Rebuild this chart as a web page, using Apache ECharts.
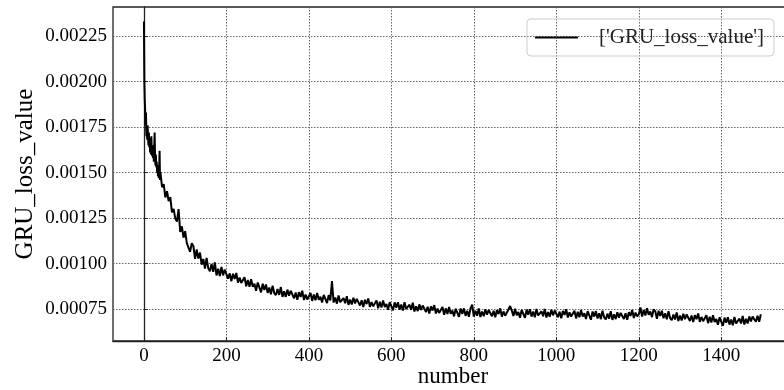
<!DOCTYPE html>
<html>
<head>
<meta charset="utf-8">
<script src="https://cdn.jsdelivr.net/npm/echarts@6/dist/echarts.min.js"></script>
<style>
  html, body { margin: 0; padding: 0; background: #fff; }
  #myChart { width: 784px; height: 390px; }
</style>
</head>
<body>
<div id="myChart"></div>
<script>
// loss for number 0..39 (one per step)
var earlyLoss = [
  0.002330, 0.002010, 0.001900, 0.001840, 0.001760, 0.001830, 0.001700, 0.001740, 0.001680, 0.001760,
  0.001690, 0.001650, 0.001720, 0.001640, 0.001690, 0.001610, 0.001660, 0.001600, 0.001700, 0.001620,
  0.001590, 0.001650, 0.001580, 0.001620, 0.001560, 0.001640, 0.001720, 0.001580, 0.001540, 0.001600,
  0.001530, 0.001560, 0.001500, 0.001540, 0.001480, 0.001520, 0.001470, 0.001530, 0.001620, 0.001460
];
// loss for number 40..1496, read every 4 steps
var laterStep = 4;
var laterLoss = [
  0.001501, 0.001420, 0.001437, 0.001364, 0.001398, 0.001344, 0.001365, 0.001282, 0.001301, 0.001249,
  0.001231, 0.001300, 0.001174, 0.001205, 0.001143, 0.001179, 0.001113, 0.001123, 0.001065, 0.001113,
  0.001096, 0.001027, 0.001078, 0.001029, 0.001061, 0.000995, 0.001026, 0.000974, 0.001032, 0.000975,
  0.000959, 0.000999, 0.000956, 0.001007, 0.000936, 0.000973, 0.000933, 0.000982, 0.000936, 0.000968,
  0.000966, 0.000918, 0.000947, 0.000904, 0.000945, 0.000917, 0.000949, 0.000896, 0.000924, 0.000895,
  0.000897, 0.000926, 0.000876, 0.000911, 0.000874, 0.000915, 0.000873, 0.000890, 0.000852, 0.000897,
  0.000891, 0.000843, 0.000890, 0.000856, 0.000886, 0.000840, 0.000869, 0.000832, 0.000880, 0.000839,
  0.000828, 0.000861, 0.000829, 0.000872, 0.000818, 0.000849, 0.000818, 0.000858, 0.000824, 0.000852,
  0.000856, 0.000810, 0.000842, 0.000802, 0.000844, 0.000818, 0.000852, 0.000801, 0.000831, 0.000804,
  0.000810, 0.000839, 0.000796, 0.000831, 0.000800, 0.000839, 0.000802, 0.000819, 0.000787, 0.000829,
  0.000825, 0.000784, 0.000828, 0.000799, 0.000905, 0.000787, 0.000814, 0.000781, 0.000826, 0.000789,
  0.000780, 0.000811, 0.000783, 0.000822, 0.000774, 0.000803, 0.000776, 0.000813, 0.000782, 0.000807,
  0.000812, 0.000771, 0.000800, 0.000763, 0.000802, 0.000779, 0.000809, 0.000763, 0.000790, 0.000766,
  0.000770, 0.000799, 0.000756, 0.000791, 0.000760, 0.000799, 0.000762, 0.000779, 0.000747, 0.000789,
  0.000785, 0.000744, 0.000788, 0.000759, 0.000789, 0.000748, 0.000776, 0.000743, 0.000789, 0.000752,
  0.000744, 0.000775, 0.000747, 0.000786, 0.000738, 0.000767, 0.000740, 0.000777, 0.000746, 0.000771,
  0.000776, 0.000735, 0.000764, 0.000727, 0.000766, 0.000743, 0.000773, 0.000727, 0.000754, 0.000730,
  0.000734, 0.000763, 0.000720, 0.000755, 0.000724, 0.000763, 0.000726, 0.000743, 0.000711, 0.000753,
  0.000750, 0.000709, 0.000754, 0.000725, 0.000755, 0.000714, 0.000742, 0.000709, 0.000755, 0.000775,
  0.000710, 0.000742, 0.000715, 0.000755, 0.000708, 0.000738, 0.000712, 0.000750, 0.000720, 0.000746,
  0.000752, 0.000712, 0.000742, 0.000706, 0.000746, 0.000724, 0.000755, 0.000710, 0.000738, 0.000715,
  0.000719, 0.000749, 0.000768, 0.000743, 0.000713, 0.000753, 0.000717, 0.000735, 0.000704, 0.000747,
  0.000743, 0.000703, 0.000748, 0.000720, 0.000750, 0.000710, 0.000738, 0.000706, 0.000752, 0.000716,
  0.000707, 0.000739, 0.000712, 0.000752, 0.000705, 0.000735, 0.000709, 0.000747, 0.000717, 0.000743,
  0.000747, 0.000707, 0.000737, 0.000701, 0.000741, 0.000719, 0.000750, 0.000705, 0.000733, 0.000710,
  0.000712, 0.000742, 0.000700, 0.000736, 0.000706, 0.000746, 0.000710, 0.000728, 0.000697, 0.000740,
  0.000733, 0.000693, 0.000738, 0.000710, 0.000740, 0.000700, 0.000728, 0.000696, 0.000742, 0.000706,
  0.000694, 0.000726, 0.000699, 0.000739, 0.000692, 0.000722, 0.000696, 0.000734, 0.000704, 0.000730,
  0.000736, 0.000697, 0.000728, 0.000693, 0.000734, 0.000714, 0.000746, 0.000702, 0.000732, 0.000711,
  0.000722, 0.000760, 0.000710, 0.000746, 0.000716, 0.000756, 0.000720, 0.000738, 0.000707, 0.000750,
  0.000739, 0.000698, 0.000742, 0.000713, 0.000742, 0.000701, 0.000728, 0.000695, 0.000740, 0.000702,
  0.000690, 0.000721, 0.000694, 0.000733, 0.000686, 0.000715, 0.000689, 0.000726, 0.000696, 0.000721,
  0.000726, 0.000686, 0.000716, 0.000680, 0.000718, 0.000696, 0.000727, 0.000681, 0.000708, 0.000685,
  0.000688, 0.000717, 0.000674, 0.000709, 0.000678, 0.000717, 0.000680, 0.000697, 0.000665, 0.000706,
  0.000699, 0.000659, 0.000704, 0.000676, 0.000706, 0.000666, 0.000694, 0.000662, 0.000708, 0.000672,
  0.000666, 0.000699, 0.000672, 0.000713, 0.000666, 0.000698, 0.000672, 0.000711, 0.000683, 0.000710,
  0.000720, 0.000682, 0.000715, 0.000681, 0.000723
];
var xTicks = [0, 200, 400, 600, 800, 1000, 1200, 1400];
var yTicks = [0.00075, 0.00100, 0.00125, 0.00150, 0.00175, 0.00200, 0.00225];
var seriesName = "['GRU_loss_value']";

var points = [];
earlyLoss.forEach(function (v, i) { points.push([i, v]); });
laterLoss.forEach(function (v, i) { points.push([earlyLoss.length + i * laterStep, v]); });

var font = 'Liberation Serif';
var gridLine = { show: true, lineStyle: { color: '#666', width: 1, type: [1.5, 1.5] } };

var myChart = echarts.init(document.getElementById('myChart'));
myChart.setOption({
  animation: false,
  textStyle: { fontFamily: font, color: '#000' },
  grid: {
    left: 113, top: 7, right: -9, bottom: 49,
    outerBoundsMode: 'none',
    containLabel: false,
    show: true, borderColor: '#222', borderWidth: 1.3
  },
  legend: {
    right: 10, top: 19,
    padding: [8, 10, 8, 8],
    borderColor: '#ccc', borderWidth: 1, borderRadius: 4,
    icon: 'rect', itemWidth: 43, itemHeight: 2,
    itemStyle: { color: '#000' },
    textStyle: { fontFamily: font, fontSize: 21, color: '#222', padding: [0, 0, 0, 16] },
    data: [seriesName]
  },
  xAxis: {
    type: 'value', min: -75, max: 1574,
    name: 'number', nameLocation: 'middle', nameGap: 24,
    nameMoveOverlap: false,
    nameTextStyle: { fontFamily: font, fontSize: 23, color: '#000' },
    axisLine: { show: true, lineStyle: { color: '#222', width: 1.3 } },
    axisTick: { show: true, inside: true, length: 4, customValues: xTicks, lineStyle: { color: '#222' } },
    axisLabel: {
      customValues: xTicks, fontFamily: font, fontSize: 19, color: '#000', margin: 6,
      formatter: function (v) { return String(v); }
    },
    splitLine: gridLine
  },
  yAxis: {
    type: 'value', min: 0.000576, max: 0.002409,
    name: 'GRU_loss_value', nameLocation: 'middle', nameGap: 75,
    nameMoveOverlap: false,
    nameTextStyle: { fontFamily: font, fontSize: 25, color: '#000' },
    axisLine: { show: true, lineStyle: { color: '#222', width: 1.3 } },
    axisTick: { show: true, inside: true, length: 4, customValues: yTicks, lineStyle: { color: '#222' } },
    axisLabel: {
      customValues: yTicks, fontFamily: font, fontSize: 19, color: '#000', margin: 6,
      formatter: function (v) { return v.toFixed(5); }
    },
    splitLine: gridLine
  },
  series: [{
    name: seriesName,
    type: 'line',
    data: points,
    symbol: 'none',
    lineStyle: { color: '#000', width: 2 },
    itemStyle: { color: '#000' }
  }]
});
</script>
</body>
</html>
